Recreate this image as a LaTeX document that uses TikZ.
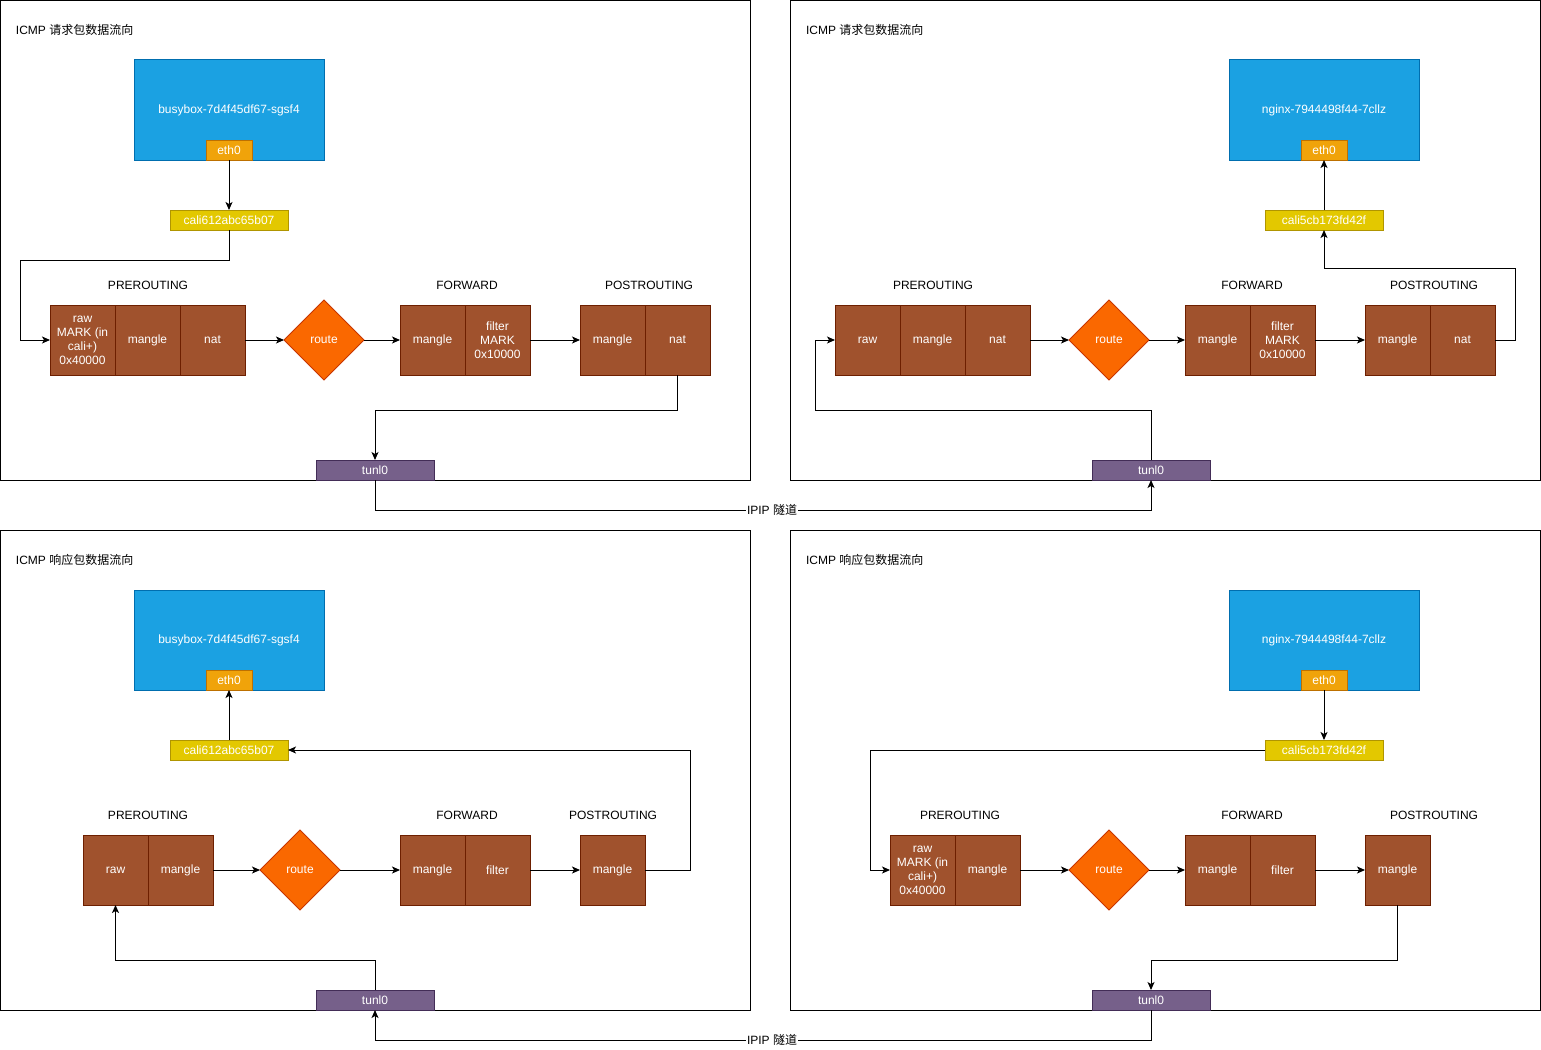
\documentclass[tikz,border=0pt]{standalone}
\usepackage{fontspec}
\setmainfont{Liberation Sans}
\newfontfamily\cjk{Noto Sans CJK SC}
\usetikzlibrary{arrows.meta,shapes.geometric}
\definecolor{podfill}{HTML}{1BA1E2}
\definecolor{podline}{HTML}{006EAF}
\definecolor{ethfill}{HTML}{F0A30A}
\definecolor{ethline}{HTML}{BD7000}
\definecolor{califill}{HTML}{E3C800}
\definecolor{caliline}{HTML}{B09500}
\definecolor{tblfill}{HTML}{A0522D}
\definecolor{tblline}{HTML}{6D1F00}
\definecolor{rtfill}{HTML}{FA6800}
\definecolor{rtline}{HTML}{C73500}
\definecolor{tunfill}{HTML}{76608A}
\definecolor{tunline}{HTML}{432D57}
\tikzset{
  base/.style={inner sep=0pt, outer sep=0pt, line width=1pt, font=\fontsize{12}{14}\selectfont},
  panel/.style={base, draw=black, minimum width=750, minimum height=480, anchor=north west},
  title/.style={base, anchor=west},
  chainlbl/.style={base},
  pod/.style={base, draw=podline, fill=podfill, text=white, minimum width=190, minimum height=100},
  ethbox/.style={base, draw=ethline, fill=ethfill, text=white, minimum width=46, minimum height=20},
  calibox/.style={base, draw=caliline, fill=califill, text=white, minimum width=118, minimum height=20},
  cell/.style={base, draw=tblline, fill=tblfill, text=white, minimum width=65, minimum height=70, align=center},
  routebox/.style={base, diamond, draw=rtline, fill=rtfill, text=white, minimum width=80, minimum height=80},
  tunbox/.style={base, draw=tunline, fill=tunfill, text=white, minimum width=118, minimum height=20},
  tunlbl/.style={base, fill=white, inner xsep=1pt},
  conn/.style={line width=1pt, -{Stealth[length=8pt,width=7pt,inset=2pt]}},
  wire/.style={line width=1pt},
}
\begin{document}
\begin{tikzpicture}[x=1pt,y=-1pt]
\useasboundingbox (0,0) rectangle (1541,1049);

% ---------- panels ----------
\node[panel] (p1) at (0.5,0.5) {};
\node[panel] (p2) at (790.5,0.5) {};
\node[panel] (p3) at (0.5,530.5) {};
\node[panel] (p4) at (790.5,530.5) {};

\node[title] (t1) at (16,30) {ICMP {\cjk 请求包数据流向}};
\node[title] (t2) at (806,30) {ICMP {\cjk 请求包数据流向}};
\node[title] (t3) at (16,560) {ICMP {\cjk 响应包数据流向}};
\node[title] (t4) at (806,560) {ICMP {\cjk 响应包数据流向}};

% ---------- request, client side ----------
\node[pod] (tl-pod) at (229,110) {busybox-7d4f45df67-sgsf4};
\node[ethbox] (tl-eth) at (229,150) {eth0};
\node[calibox] (tl-cali) at (229,220) {cali612abc65b07};
\node[chainlbl] (tl-pre) at (148,285) {PREROUTING};
\node[chainlbl] (tl-fwd) at (467,285) {FORWARD};
\node[chainlbl] (tl-post) at (649,285) {POSTROUTING};
\node[cell] (tl-raw) at (82.5,340) {raw\\MARK (in\\cali+)\\0x40000};
\node[cell] (tl-mng) at (147.5,340) {mangle};
\node[cell] (tl-nat) at (212.5,340) {nat};
\node[routebox] (tl-rt) at (324,340) {route};
\node[cell] (tl-fmng) at (432.5,340) {mangle};
\node[cell] (tl-flt) at (497.5,340) {filter\\MARK\\0x10000};
\node[cell] (tl-pmng) at (612.5,340) {mangle};
\node[cell] (tl-pnat) at (677.5,340) {nat};
\node[tunbox] (tl-tun) at (375,470) {tunl0};

\draw[conn] (tl-eth.south) -- (tl-cali.north);
\draw[conn] (tl-cali.south) |- (20,260) |- (tl-raw.west);
\draw[conn] (tl-nat.east) -- (tl-rt.west);
\draw[conn] (tl-rt.east) -- (tl-fmng.west);
\draw[conn] (tl-flt.east) -- (tl-pmng.west);
\draw[conn] (tl-pnat.south) -- ++(0,35) -| (tl-tun.north);

% ---------- request, server side ----------
\node[pod] (tr-pod) at (1324,110) {nginx-7944498f44-7cllz};
\node[ethbox] (tr-eth) at (1324,150) {eth0};
\node[calibox] (tr-cali) at (1324,220) {cali5cb173fd42f};
\node[chainlbl] (tr-pre) at (933,285) {PREROUTING};
\node[chainlbl] (tr-fwd) at (1252,285) {FORWARD};
\node[chainlbl] (tr-post) at (1434,285) {POSTROUTING};
\node[cell] (tr-raw) at (867.5,340) {raw};
\node[cell] (tr-mng) at (932.5,340) {mangle};
\node[cell] (tr-nat) at (997.5,340) {nat};
\node[routebox] (tr-rt) at (1109,340) {route};
\node[cell] (tr-fmng) at (1217.5,340) {mangle};
\node[cell] (tr-flt) at (1282.5,340) {filter\\MARK\\0x10000};
\node[cell] (tr-pmng) at (1397.5,340) {mangle};
\node[cell] (tr-pnat) at (1462.5,340) {nat};
\node[tunbox] (tr-tun) at (1151,470) {tunl0};

\draw[conn] (tr-cali.north) -- (tr-eth.south);
\draw[conn] (tr-tun.north) |- (815,410) |- (tr-raw.west);
\draw[conn] (tr-nat.east) -- (tr-rt.west);
\draw[conn] (tr-rt.east) -- (tr-fmng.west);
\draw[conn] (tr-flt.east) -- (tr-pmng.west);
\draw[conn] (tr-pnat.east) -| (1515,268) -| (tr-cali.south);

% tunnel between the two hosts (request)
\node[tunlbl] (ipip1) at (772,510) {IPIP {\cjk 隧道}};
\draw[wire] (tl-tun.south) |- (ipip1.west);
\draw[conn] (ipip1.east) -| (tr-tun.south);

% ---------- reply, client side ----------
\node[pod] (bl-pod) at (229,640) {busybox-7d4f45df67-sgsf4};
\node[ethbox] (bl-eth) at (229,680) {eth0};
\node[calibox] (bl-cali) at (229,750) {cali612abc65b07};
\node[chainlbl] (bl-pre) at (148,815) {PREROUTING};
\node[chainlbl] (bl-fwd) at (467,815) {FORWARD};
\node[chainlbl] (bl-post) at (613,815) {POSTROUTING};
\node[cell] (bl-raw) at (115.5,870) {raw};
\node[cell] (bl-mng) at (180.5,870) {mangle};
\node[routebox] (bl-rt) at (300,870) {route};
\node[cell] (bl-fmng) at (432.5,870) {mangle};
\node[cell] (bl-flt) at (497.5,870) {filter};
\node[cell] (bl-pmng) at (612.5,870) {mangle};
\node[tunbox] (bl-tun) at (375,1000) {tunl0};

\draw[conn] (bl-cali.north) -- (bl-eth.south);
\draw[conn] (bl-pmng.east) -| (690,750) -- (bl-cali.east);
\draw[conn] (bl-tun.north) |- (115.5,960) -- (bl-raw.south);
\draw[conn] (bl-mng.east) -- (bl-rt.west);
\draw[conn] (bl-rt.east) -- (bl-fmng.west);
\draw[conn] (bl-flt.east) -- (bl-pmng.west);

% ---------- reply, server side ----------
\node[pod] (br-pod) at (1324,640) {nginx-7944498f44-7cllz};
\node[ethbox] (br-eth) at (1324,680) {eth0};
\node[calibox] (br-cali) at (1324,750) {cali5cb173fd42f};
\node[chainlbl] (br-pre) at (960,815) {PREROUTING};
\node[chainlbl] (br-fwd) at (1252,815) {FORWARD};
\node[chainlbl] (br-post) at (1434,815) {POSTROUTING};
\node[cell] (br-raw) at (922.5,870) {raw\\MARK (in\\cali+)\\0x40000};
\node[cell] (br-mng) at (987.5,870) {mangle};
\node[routebox] (br-rt) at (1109,870) {route};
\node[cell] (br-fmng) at (1217.5,870) {mangle};
\node[cell] (br-flt) at (1282.5,870) {filter};
\node[cell] (br-pmng) at (1397.5,870) {mangle};
\node[tunbox] (br-tun) at (1151,1000) {tunl0};

\draw[conn] (br-eth.south) -- (br-cali.north);
\draw[conn] (br-cali.west) -| (870,870) -- (br-raw.west);
\draw[conn] (br-mng.east) -- (br-rt.west);
\draw[conn] (br-rt.east) -- (br-fmng.west);
\draw[conn] (br-flt.east) -- (br-pmng.west);
\draw[conn] (br-pmng.south) |- (1151,960) -- (br-tun.north);

% tunnel between the two hosts (reply)
\node[tunlbl] (ipip2) at (772,1040) {IPIP {\cjk 隧道}};
\draw[wire] (br-tun.south) |- (ipip2.east);
\draw[conn] (ipip2.west) -| (bl-tun.south);
\end{tikzpicture}
\end{document}
